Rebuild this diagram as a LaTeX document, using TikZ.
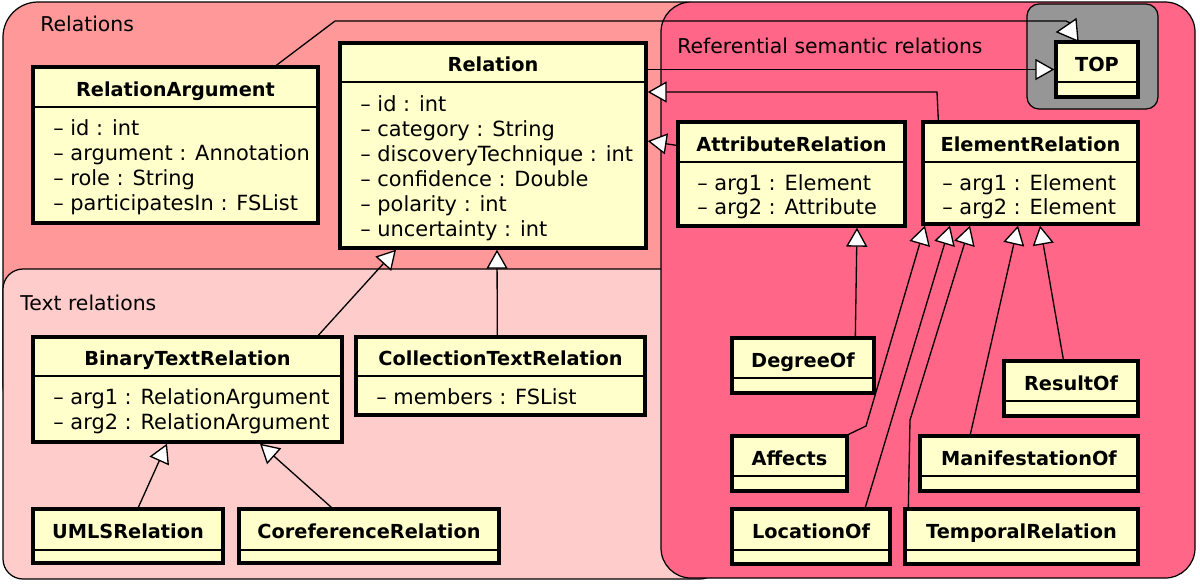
\documentclass[tikz,border=0pt]{standalone}
\usepackage{fontspec}
\setmainfont{DejaVu Sans}
\usetikzlibrary{arrows.meta,fit}

\definecolor{relbg}{RGB}{255,153,153}
\definecolor{txtbg}{RGB}{255,204,204}
\definecolor{refbg}{RGB}{255,102,136}
\definecolor{topbg}{RGB}{150,150,150}
\definecolor{clsbg}{RGB}{255,255,204}

\tikzset{
  cont/.style={draw=black, line width=0.7pt},
  clsbox/.style={draw=black, fill=clsbg, line width=1.9pt, inner sep=0pt},
  sepline/.style={line width=0.7pt},
  clstitle/.style={font=\fontsize{11}{13}\selectfont\bfseries, inner sep=0pt, anchor=base},
  attr/.style={font=\fontsize{11.9}{14}\selectfont, inner sep=0pt, anchor=base west},
  lbl/.style={font=\fontsize{11.6}{14}\selectfont, inner sep=0pt, anchor=base west},
  conn/.style={line width=0.75pt},
  inh/.style={conn, -{Triangle[fill=white, length=10.8pt, width=12pt]}}
}

\newcommand{\umlbox}[7]{%
  \node[clsbox, fit={(#2,#3) (#4,#5)}] (#1) {};
  \draw[sepline] (#2,#6) -- (#4,#6);
  \node[clstitle] (#1-t) at ({(#2+#4)/2},{(#3+#6)/2+9}) {#7};
}
\newcommand{\umlattr}[4]{\node[attr] (#1) at (#2,{#3+7}) {#4};}

\begin{document}
\begin{tikzpicture}[x=0.02cm, y=-0.02cm]
\useasboundingbox (0,0) rectangle (1200,583);

% containers
\draw[cont, fill=relbg, rounded corners=0.7cm] (3,2) rectangle (720,420);
\draw[cont, fill=txtbg, rounded corners=0.4cm] (3,269) rectangle (720,579);
\draw[cont, fill=refbg, rounded corners=0.6cm] (661,2) rectangle (1195,578);
\draw[cont, fill=topbg, rounded corners=0.24cm] (1027,4) rectangle (1158,109);

\node[lbl] (lrel) at (40,31) {Relations};
\node[lbl] (ltxt) at (20,310) {Text relations};
\node[lbl] (lref) at (677,53) {Referential semantic relations};

% classes
\umlbox{ra}{33}{67}{318}{223}{107}{RelationArgument}
\umlattr{ra-a1}{53}{128}{– id : int}
\umlattr{ra-a2}{53}{153}{– argument : Annotation}
\umlattr{ra-a3}{53}{178}{– role : String}
\umlattr{ra-a4}{53}{203}{– participatesIn : FSList}

\umlbox{rel}{340}{43}{646}{248}{82}{Relation}
\umlattr{rel-a1}{360}{104}{– id : int}
\umlattr{rel-a2}{360}{129}{– category : String}
\umlattr{rel-a3}{360}{154}{– discoveryTechnique : int}
\umlattr{rel-a4}{360}{179}{– confidence : Double}
\umlattr{rel-a5}{360}{204}{– polarity : int}
\umlattr{rel-a6}{360}{229}{– uncertainty : int}

\umlbox{btr}{33}{337}{342}{442}{376}{BinaryTextRelation}
\umlattr{btr-a1}{53}{397}{– arg1 : RelationArgument}
\umlattr{btr-a2}{53}{422}{– arg2 : RelationArgument}

\umlbox{ctr}{356}{337}{645}{415}{376}{CollectionTextRelation}
\umlattr{ctr-a1}{376}{397}{– members : FSList}

\umlbox{umls}{33}{509}{223}{563}{550}{UMLSRelation}
\umlbox{coref}{239}{509}{499}{563}{550}{CoreferenceRelation}

\umlbox{top}{1056}{42}{1138}{97}{82}{TOP}

\umlbox{ar}{678}{122}{905}{226}{162}{AttributeRelation}
\umlattr{ar-a1}{697}{183}{– arg1 : Element}
\umlattr{ar-a2}{697}{207}{– arg2 : Attribute}

\umlbox{er}{923}{122}{1138}{224}{162}{ElementRelation}
\umlattr{er-a1}{942}{183}{– arg1 : Element}
\umlattr{er-a2}{942}{207}{– arg2 : Element}

\umlbox{deg}{732}{338}{874}{393}{378}{DegreeOf}
\umlbox{res}{1004}{361}{1138}{416}{401}{ResultOf}
\umlbox{aff}{732}{436}{847}{491}{476}{Affects}
\umlbox{man}{920}{436}{1138}{491}{476}{ManifestationOf}
\umlbox{loc}{732}{509}{890}{564}{550}{LocationOf}
\umlbox{temp}{905}{509}{1138}{564}{550}{TemporalRelation}

% connectors
\draw[conn] (ra.north west) ++(245,0) -- (335,21) -- (1066,21) -- (1072,24);
\filldraw[conn, fill=white] (1057,32) -- (1076,19) -- (1078,41) -- cycle;

\draw[inh] (rel.east |- top.west) -- (top.west);
\draw[inh] (er.north west) ++(17,0) -- (937,92) -- (rel.east |- 0,92);
\draw[inh] (ar.north west) ++(0,25) -- (rel.east |- 0,141);
\draw[inh] (btr.north west) ++(287,0) -- (rel.south -| 396,0);
\draw[inh] (ctr.north west) ++(143,0) -- (rel.south -| 497,0);
\draw[inh] (umls.north west) ++(107,0) -- (btr.south -| 167,0);
\draw[inh] (coref.north west) ++(94,0) -- (btr.south -| 260,0);
\draw[inh] (deg.north west) ++(125,0) -- (ar.south -| 857,0);
\draw[inh] (aff.north east) -- (866,426) -- (er.south -| 925,0);
\draw[inh] (loc.north west) ++(135,0) -- (er.south -| 950,0);
\draw[inh] (temp.north west) ++(5,0) -- (910,420) -- (er.south -| 970,0);
\draw[inh] (man.north west) ++(52,0) -- (er.south -| 1018,0);
\draw[inh] (res.north west) ++(61,0) -- (er.south -| 1040,0);
\end{tikzpicture}
\end{document}
